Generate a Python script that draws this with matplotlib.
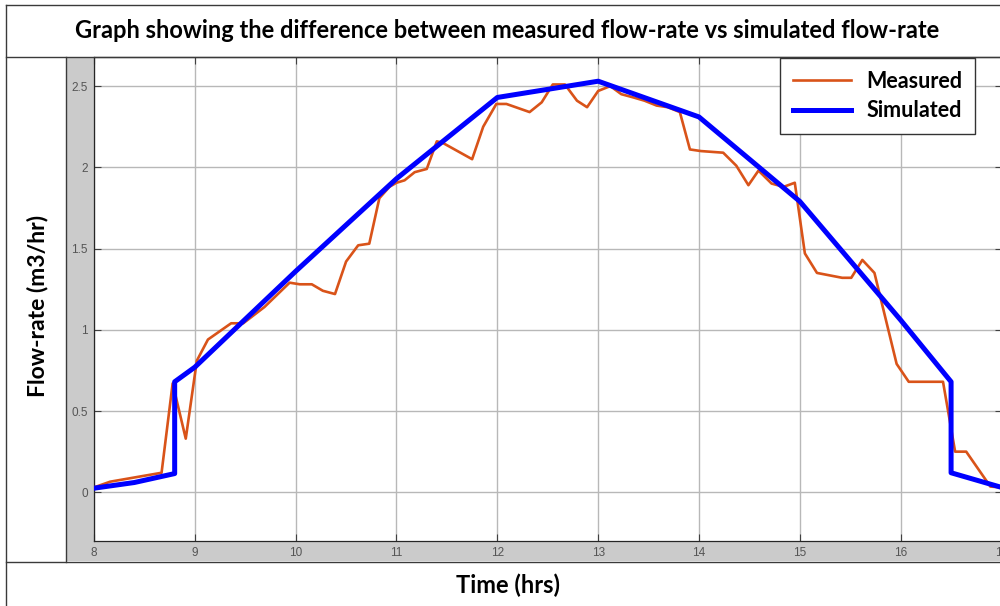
import matplotlib
matplotlib.use("Agg")
import matplotlib.pyplot as plt
from matplotlib.lines import Line2D
from matplotlib.patches import Rectangle

# measured flow-rate (orange)
measured_t = [8.0, 8.16, 8.67, 8.78, 8.91, 9.02, 9.13, 9.36, 9.48, 9.69, 9.94,
              10.04, 10.16, 10.27, 10.39, 10.50, 10.62, 10.73, 10.83, 10.93,
              11.0, 11.08, 11.18, 11.30, 11.40, 11.46, 11.75, 11.86, 11.99,
              12.09, 12.32, 12.44, 12.55, 12.67, 12.79, 12.89, 13.0, 13.12,
              13.23, 13.35, 13.46, 13.58, 13.69, 13.81, 13.91, 14.02, 14.24,
              14.37, 14.49, 14.59, 14.72, 14.84, 14.95, 15.05, 15.17, 15.42,
              15.51, 15.62, 15.74, 15.96, 16.08, 16.42, 16.54, 16.65, 16.89, 17.0]
measured_q = [0.03, 0.065, 0.12, 0.67, 0.33, 0.81, 0.94, 1.04, 1.04, 1.14, 1.29,
              1.28, 1.28, 1.24, 1.22, 1.42, 1.52, 1.53, 1.81, 1.88,
              1.905, 1.92, 1.97, 1.99, 2.16, 2.15, 2.05, 2.25, 2.39,
              2.39, 2.34, 2.40, 2.51, 2.51, 2.41, 2.37, 2.47, 2.50,
              2.45, 2.43, 2.41, 2.38, 2.37, 2.34, 2.11, 2.10, 2.09,
              2.01, 1.89, 1.98, 1.90, 1.88, 1.905, 1.47, 1.35, 1.32,
              1.32, 1.43, 1.35, 0.79, 0.68, 0.68, 0.25, 0.25, 0.035, 0.03]

# simulated flow-rate (blue)
sim_t = [8.0, 8.4, 8.8, 8.8, 9.0, 10.0, 11.0, 12.0, 13.0, 14.0, 15.0, 16.0, 16.5, 16.5, 17.0]
sim_q = [0.025, 0.06, 0.115, 0.68, 0.77, 1.36, 1.93, 2.43, 2.53, 2.31, 1.79, 1.06, 0.68, 0.12, 0.03]

xticks = [8, 9, 10, 11, 12, 13, 14, 15, 16, 17]
yticks = [0, 0.5, 1, 1.5, 2, 2.5]
ytick_labels = ["0", "0.5", "1", "1.5", "2", "2.5"]

W, H = 1000, 606


def fx(px):
    return px / W


def fy(py):
    return 1 - py / H


fig = plt.figure(figsize=(W / 100, H / 100), dpi=100)
fig.patch.set_facecolor("white")

# grey matlab figure area
fig.add_artist(Rectangle((fx(66), fy(561)), fx(1000) - fx(66), fy(57) - fy(561),
                         transform=fig.transFigure, facecolor="#cbcbcb",
                         edgecolor="none", zorder=0))

# table frame lines
frame_kw = dict(transform=fig.transFigure, color="#3a3a3a", lw=1.0, zorder=5)
fig.add_artist(Line2D([fx(6), fx(1000)], [fy(5), fy(5)], **frame_kw))
fig.add_artist(Line2D([fx(6), fx(6)], [fy(5), fy(606)], **frame_kw))
fig.add_artist(Line2D([fx(6), fx(1000)], [fy(57), fy(57)], **frame_kw))
fig.add_artist(Line2D([fx(65.5), fx(65.5)], [fy(57), fy(562)], **frame_kw))
fig.add_artist(Line2D([fx(6), fx(1000)], [fy(562), fy(562)], **frame_kw))

ax = fig.add_axes([fx(94), fy(541), fx(1001.5) - fx(94), fy(57) - fy(541)])
ax.set_facecolor("white")

ax.plot(measured_t, measured_q, color="#D95319", lw=1.9, label="Measured", zorder=3)
ax.plot(sim_t, sim_q, color="#0000FF", lw=3.6, label="Simulated", zorder=4)

ax.set_xlim(8, 17)
ax.set_ylim(-0.3, 2.679)
ax.set_xticks(xticks)
ax.set_yticks(yticks)
ax.set_yticklabels(ytick_labels)
ax.grid(True, color="#b8b8b8", lw=1.0)
ax.set_axisbelow(True)
ax.tick_params(direction="in", length=5, width=0.8, color="#404040",
               labelcolor="#555555", labelsize=8.5, top=True, right=True,
               pad=4.5)
for lab in ax.get_xticklabels() + ax.get_yticklabels():
    lab.set_family("Liberation Sans")
for s in ax.spines.values():
    s.set_color("#262626")
    s.set_linewidth(0.9)

leg = ax.legend(loc="upper left", bbox_to_anchor=(fx(780), fy(58)),
                bbox_transform=fig.transFigure, fancybox=False, framealpha=1,
                edgecolor="#333333", borderpad=0.6, handlelength=2.7,
                handletextpad=0.7, labelspacing=0.38, borderaxespad=0,
                prop={"family": "Lato", "weight": "bold", "size": 15.5})
leg.get_frame().set_linewidth(1.0)
leg.set_zorder(10)

text_kw = dict(family="Lato", weight="bold", color="black", ha="center", va="center")
fig.text(fx(507), fy(31), "Graph showing the difference between measured flow-rate vs simulated flow-rate",
         fontsize=17, **text_kw)
fig.text(fx(38), fy(306), "Flow-rate (m3/hr)", rotation=90, fontsize=16.5, **text_kw)
fig.text(fx(508), fy(585), "Time (hrs)", fontsize=17, **text_kw)

fig.savefig("out.png", dpi=100)
